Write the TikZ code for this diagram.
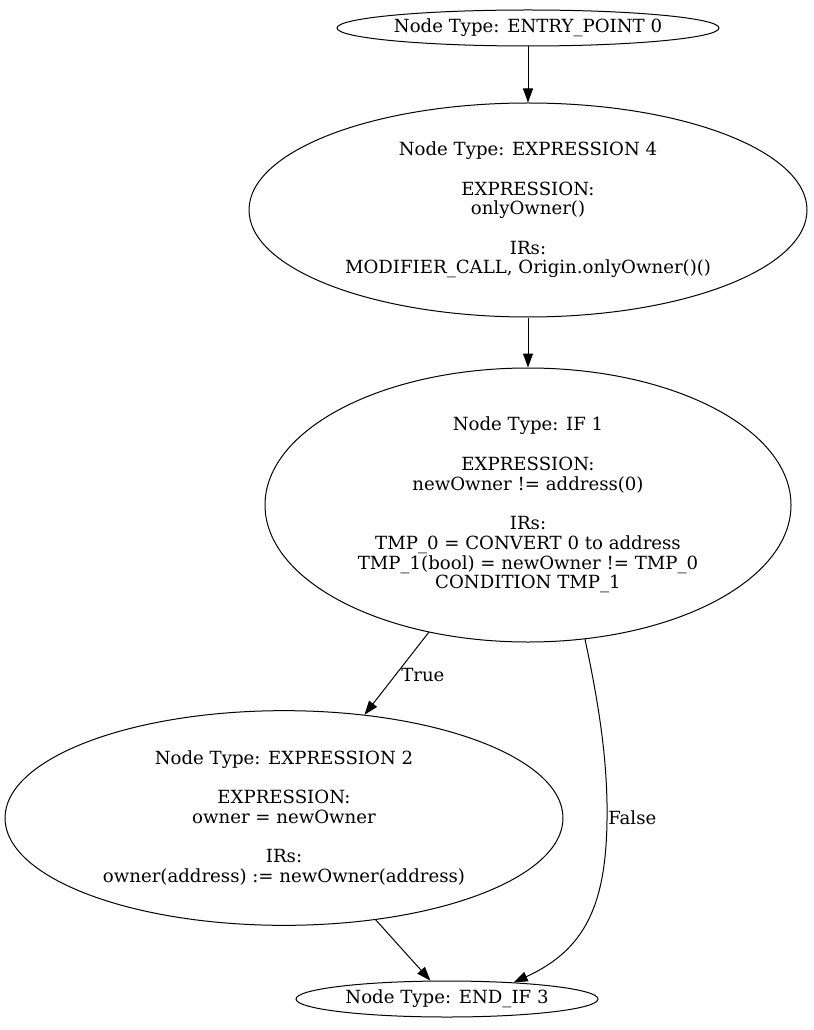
\documentclass[tikz,border=0pt]{standalone}
\usepackage{fontspec}
\setmainfont{DejaVu Serif}
\usetikzlibrary{shapes.geometric,arrows.meta}
\begin{document}
\begin{tikzpicture}[x=0.75pt,y=-0.75pt,
  every node/.style={font=\fontsize{13.6}{14.8}\selectfont},
  stmt/.style={ellipse,draw,line width=0.75pt,inner xsep=-30pt,inner ysep=-12pt,align=center},
  flow/.style={line width=0.75pt,-{Triangle[length=10.5pt,width=7.5pt]}},
  lbl/.style={inner sep=0pt}]
\useasboundingbox (0,0) rectangle (813,1030);
\node[stmt,minimum width=286.5pt,minimum height=27pt] (entry) at (528,28) {Node Type: ENTRY\_POINT 0};
\node[stmt,minimum width=418.5pt,minimum height=160.5pt] (mod) at (528,210)
  {Node Type: EXPRESSION 4\\[14.8pt]EXPRESSION:\\onlyOwner()\\[14.8pt]IRs:\\MODIFIER\_CALL, Origin.onlyOwner()()};
\node[stmt,minimum width=394.5pt,minimum height=205.5pt] (cond) at (528,505)
  {Node Type: IF 1\\[15pt]EXPRESSION:\\newOwner != address(0)\\[15pt]IRs:\\TMP\_0 = CONVERT 0 to address\\TMP\_1(bool) = newOwner != TMP\_0\\CONDITION TMP\_1};
\node[stmt,minimum width=418.5pt,minimum height=161pt] (assign) at (284,818)
  {Node Type: EXPRESSION 2\\[14.8pt]EXPRESSION:\\owner = newOwner\\[14.8pt]IRs:\\owner(address) := newOwner(address)};
\node[stmt,minimum width=226.5pt,minimum height=27pt] (endif) at (447,999) {Node Type: END\_IF 3};

\draw[flow] (entry) -- (mod);
\draw[flow] (mod) -- (cond);
\draw[flow] (cond) -- (assign);
\draw[flow] (assign) -- (endif);
\draw[flow] (cond.-67.7) .. controls (598,700) and (608,760) .. (607,820)
  .. controls (606,905) and (585,950) .. (endif.14);

\node[lbl,anchor=west] (ltrue) at (401,675) {True};
\node[lbl,anchor=west] (lfalse) at (608,818) {False};
\end{tikzpicture}
\end{document}
